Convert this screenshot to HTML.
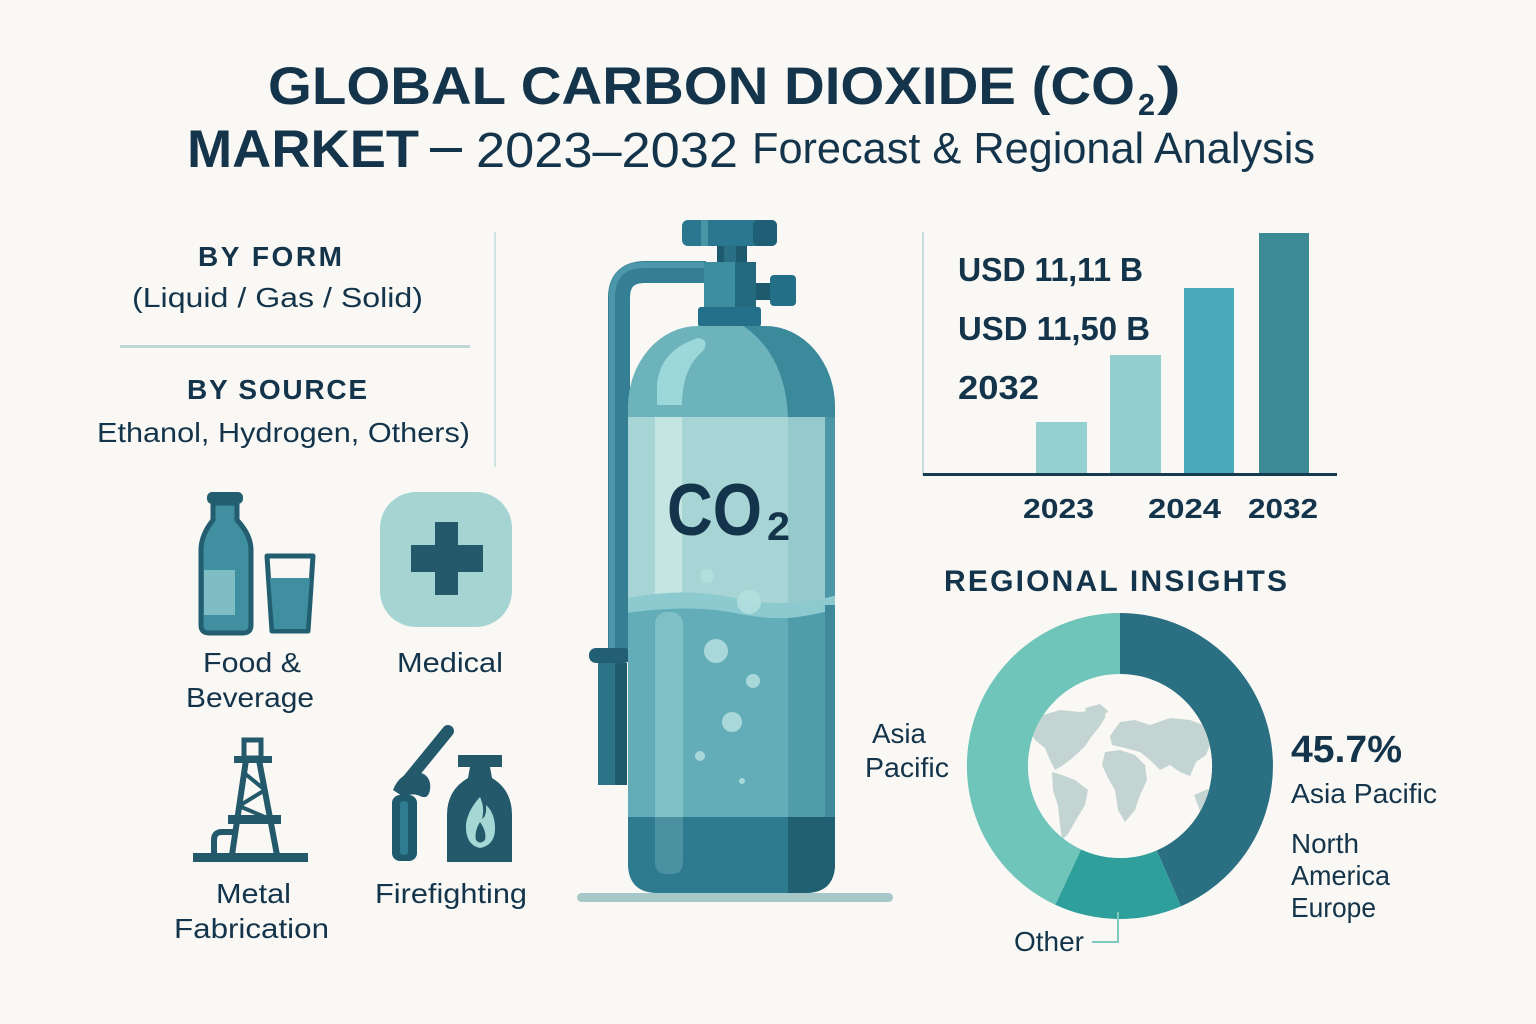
<!DOCTYPE html>
<html>
<head>
<meta charset="utf-8">
<style>
  html,body{margin:0;padding:0;background:#f9f8f4;}
  svg{display:block;}
  text{font-family:"Liberation Sans", Arial, sans-serif; fill:#13344a;}
  .b{font-weight:bold;}
</style>
</head>
<body>
<svg width="1536" height="1024" viewBox="0 0 1536 1024" xmlns="http://www.w3.org/2000/svg">
  <rect width="1536" height="1024" fill="#f9f8f4"/>

  <!-- TITLE -->
  <text x="268" y="104" class="b" font-size="53" textLength="867" lengthAdjust="spacingAndGlyphs">GLOBAL CARBON DIOXIDE (CO</text>
  <text x="1138" y="115" class="b" font-size="31" textLength="17" lengthAdjust="spacingAndGlyphs">2</text>
  <text x="1157" y="104" class="b" font-size="53" textLength="24" lengthAdjust="spacingAndGlyphs">)</text>

  <text x="187" y="167" class="b" font-size="53" textLength="232" lengthAdjust="spacingAndGlyphs">MARKET</text>
  <rect x="430" y="148" width="32" height="4" fill="#13344a"/>
  <text x="476" y="167" font-size="49" textLength="262" lengthAdjust="spacingAndGlyphs">2023–2032</text>
  <text x="752" y="163" font-size="44" textLength="563" lengthAdjust="spacingAndGlyphs">Forecast &amp; Regional Analysis</text>

  <!-- LEFT TEXT PANEL -->
  <text x="198" y="266" class="b" font-size="28" textLength="144" lengthAdjust="spacing">BY FORM</text>
  <text x="132" y="307" font-size="28" textLength="291" lengthAdjust="spacingAndGlyphs">(Liquid / Gas / Solid)</text>
  <rect x="120" y="345" width="350" height="3" fill="#c2d6d8"/>
  <text x="187" y="399" class="b" font-size="28" textLength="180" lengthAdjust="spacing">BY SOURCE</text>
  <text x="97" y="442" font-size="28" textLength="373" lengthAdjust="spacingAndGlyphs">Ethanol, Hydrogen, Others)</text>
  <rect x="494" y="232" width="2" height="235" fill="#d2e2e3"/>

  <!-- FOOD & BEVERAGE -->
  <path d="M213,503 L213,520 Q201,535 201,550 L201,625 Q201,633 209,633 L243,633 Q251,633 251,625 L251,550 Q251,535 237,520 L237,503 Z" fill="#3f8fa0" stroke="#225d70" stroke-width="5" stroke-linejoin="round"/>
  <rect x="204" y="570" width="31" height="45" fill="#7dbdc3"/>
  <rect x="207" y="492" width="36" height="12" rx="5" fill="#225d70"/>
  <path d="M267,556 L313,556 L308,631 L272,631 Z" fill="#f9f8f4" stroke="#225d70" stroke-width="5" stroke-linejoin="round"/>
  <path d="M270,578 L310,578 L306,629 L274,629 Z" fill="#3f8fa0"/>
  <text x="203" y="672" font-size="28" textLength="98" lengthAdjust="spacingAndGlyphs">Food &amp;</text>
  <text x="186" y="707" font-size="28" textLength="128" lengthAdjust="spacingAndGlyphs">Beverage</text>

  <!-- MEDICAL -->
  <rect x="380" y="492" width="132" height="135" rx="36" fill="#a6d4d3"/>
  <rect x="435" y="522" width="23" height="73" fill="#24596b"/>
  <rect x="411" y="545" width="72" height="27" fill="#24596b"/>
  <text x="397" y="672" font-size="28" textLength="106" lengthAdjust="spacingAndGlyphs">Medical</text>

  <!-- METAL FABRICATION (rig) -->
  <g fill="#24596b" stroke="#24596b">
    <rect x="193" y="853" width="115" height="9" stroke="none"/>
    <rect x="244" y="740" width="17" height="18" fill="none" stroke-width="5"/>
    <rect x="234" y="756" width="38" height="7" stroke="none"/>
    <line x1="246" y1="760" x2="232" y2="855" stroke-width="6"/>
    <line x1="259" y1="760" x2="277" y2="855" stroke-width="6"/>
    <line x1="243" y1="772" x2="265" y2="790" stroke-width="4"/>
    <line x1="265" y1="790" x2="239" y2="806" stroke-width="4"/>
    <line x1="239" y1="806" x2="272" y2="820" stroke-width="4"/>
    <rect x="228" y="815" width="53" height="9" stroke="none"/>
    <path d="M214,853 L214,840 Q214,832 222,832 L234,832" fill="none" stroke-width="6"/>
  </g>
  <text x="216" y="903" font-size="28" textLength="75" lengthAdjust="spacingAndGlyphs">Metal</text>
  <text x="174" y="938" font-size="28" textLength="155" lengthAdjust="spacingAndGlyphs">Fabrication</text>

  <!-- FIREFIGHTING -->
  <g>
    <line x1="408" y1="780" x2="448" y2="731" stroke="#24596b" stroke-width="12" stroke-linecap="round"/>
    <path d="M393,790 Q400,772 418,772 Q432,775 430,790 Q428,800 420,796 Q410,792 405,798 Z" fill="#24596b"/>
    <rect x="392" y="795" width="25" height="66" rx="8" fill="#1f5a6c"/>
    <rect x="400" y="801" width="8" height="54" rx="3" fill="#2f7b8f"/>
    <rect x="458" y="755" width="44" height="12" fill="#24596b"/>
    <path d="M470,767 L490,767 L492,778 Q512,790 512,815 L512,862 L447,862 L447,815 Q447,790 468,778 Z" fill="#24596b"/>
    <path d="M480,797 Q468,810 466,824 Q465,845 480,848 Q496,845 495,826 Q494,812 486,805 Q487,816 482,819 Q485,808 480,797 Z" fill="#a5d8d5"/>
    <path d="M480,822 Q474,832 476,840 Q480,845 485,840 Q487,832 480,822 Z" fill="#24596b"/>
  </g>
  <text x="375" y="903" font-size="28" textLength="152" lengthAdjust="spacingAndGlyphs">Firefighting</text>

  <!-- CYLINDER -->
  <path d="M619,652 L619,298 Q619,272 645,272 L706,272" fill="none" stroke="#347f93" stroke-width="22"/>
  <path d="M612,652 L612,298 Q612,265 645,265 L706,265" fill="none" stroke="#4c98aa" stroke-width="6"/>
  <rect x="589" y="648" width="42" height="15" rx="7" fill="#235f74"/>
  <rect x="598" y="663" width="29" height="122" fill="#2c7388"/>
  <rect x="615" y="663" width="12" height="122" fill="#1f5a6d"/>
  <rect x="682" y="220" width="95" height="26" rx="6" fill="#2a7890"/>
  <rect x="701" y="220" width="7" height="26" fill="#4a94a8"/>
  <rect x="753" y="220" width="24" height="26" rx="5" fill="#1f5f75"/>
  <rect x="717" y="246" width="30" height="17" fill="#1d5a6e"/>
  <rect x="724" y="246" width="12" height="17" fill="#2a6f83"/>
  <rect x="704" y="262" width="52" height="46" fill="#236a7e"/>
  <rect x="704" y="262" width="31" height="46" fill="#3d8fa0"/>
  <rect x="756" y="283" width="15" height="17" fill="#1e5a6d"/>
  <rect x="770" y="275" width="26" height="31" rx="4" fill="#236f88"/>
  <rect x="698" y="307" width="63" height="20" rx="3" fill="#246f89"/>

  <defs>
    <clipPath id="body">
      <path d="M628,407 A70,81 0 0 1 698,326 L765,326 A70,81 0 0 1 835,407 L835,863 Q835,893 805,893 L658,893 Q628,893 628,863 Z"/>
    </clipPath>
    <clipPath id="globe">
      <circle cx="1120" cy="766" r="92"/>
    </clipPath>
  </defs>
  <g clip-path="url(#body)">
    <rect x="620" y="320" width="220" height="100" fill="#6db3bc"/>
    <path d="M737,322 Q785,350 788,417 L840,417 L840,320 Z" fill="#3b8a9c"/>
    <path d="M657,405 L657,385 Q660,350 698,338 Q710,340 703,351 Q682,368 682,405 Z" fill="#9cd7da"/>
    <rect x="620" y="417" width="220" height="190" fill="#a7d4d4"/>
    <rect x="655" y="417" width="27" height="190" fill="#c4e5e2"/>
    <rect x="788" y="417" width="37" height="190" fill="#96c9cb"/>
    <rect x="825" y="417" width="15" height="190" fill="#4d96a5"/>
    <path d="M620,600 Q680,586 735,598 Q790,610 840,594 L840,900 L620,900 Z" fill="#8ccad0"/>
    <path d="M620,614 Q690,603 740,614 Q790,624 840,610 L840,900 L620,900 Z" fill="#63adb9"/>
    <rect x="655" y="612" width="28" height="261" rx="12" fill="#7fc0c7"/>
    <path d="M788,618 Q812,616 840,608 L840,900 L788,900 Z" fill="#4f9dab"/>
    <rect x="825" y="605" width="15" height="300" fill="#3e8a9a"/>
    <rect x="620" y="817" width="220" height="80" fill="#2e7a8e"/>
    <rect x="788" y="817" width="52" height="80" fill="#215f73"/>
    <path d="M655,817 L683,817 L683,862 Q683,874 671,874 L667,874 Q655,874 655,862 Z" fill="#4b91a2"/>
    <g fill="#b6e0e0" opacity="0.85">
      <circle cx="707" cy="576" r="7"/>
      <circle cx="749" cy="602" r="12"/>
      <circle cx="716" cy="651" r="12"/>
      <circle cx="753" cy="681" r="7"/>
      <circle cx="732" cy="722" r="10"/>
      <circle cx="700" cy="756" r="5"/>
      <circle cx="742" cy="781" r="3"/>
    </g>
  </g>
  <text x="667" y="535" class="b" font-size="73" textLength="95" lengthAdjust="spacingAndGlyphs">CO</text>
  <text x="767" y="540" class="b" font-size="40" textLength="23" lengthAdjust="spacingAndGlyphs">2</text>
  <rect x="577" y="893" width="316" height="9" rx="4.5" fill="#a6c8c8"/>

  <!-- BAR CHART -->
  <rect x="922" y="232" width="2" height="243" fill="#c9dcdd"/>
  <rect x="1036" y="422" width="51" height="53" fill="#95d0d0"/>
  <rect x="1110" y="355" width="51" height="120" fill="#93cdce"/>
  <rect x="1184" y="288" width="50" height="187" fill="#4aaab9"/>
  <rect x="1259" y="233" width="50" height="242" fill="#3c8b97"/>
  <rect x="923" y="473" width="414" height="3" fill="#163a4e"/>
  <text x="958" y="281" class="b" font-size="33" textLength="185" lengthAdjust="spacingAndGlyphs">USD 11,11 B</text>
  <text x="958" y="340" class="b" font-size="33" textLength="192" lengthAdjust="spacingAndGlyphs">USD 11,50 B</text>
  <text x="958" y="399" class="b" font-size="33" textLength="81" lengthAdjust="spacingAndGlyphs">2032</text>
  <text x="1023" y="518" class="b" font-size="28" textLength="71" lengthAdjust="spacingAndGlyphs">2023</text>
  <text x="1148" y="518" class="b" font-size="28" textLength="73" lengthAdjust="spacingAndGlyphs">2024</text>
  <text x="1248" y="518" class="b" font-size="28" textLength="70" lengthAdjust="spacingAndGlyphs">2032</text>

  <!-- REGIONAL INSIGHTS -->
  <text x="944" y="591" class="b" font-size="30" textLength="343" lengthAdjust="spacing">REGIONAL INSIGHTS</text>

  <path d="M1120,613 A153,153 0 0 1 1181,906.3 L1156.7,850.4 A92,92 0 0 0 1120,674 Z" fill="#2a6f82"/>
  <path d="M1181,906.3 A153,153 0 0 1 1055.3,904.7 L1081.1,849.4 A92,92 0 0 0 1156.7,850.4 Z" fill="#2f9f9b"/>
  <path d="M1055.3,904.7 A153,153 0 0 1 1120,613 L1120,674 A92,92 0 0 0 1081.1,849.4 Z" fill="#6fc5ba"/>
  <circle cx="1120" cy="766" r="92" fill="#f9f8f4"/>
  <g clip-path="url(#globe)" fill="#c4d4d3">
    <polygon points="1030,730 1040,716 1060,710 1080,712 1095,710 1106,716 1100,726 1092,736 1085,746 1078,753 1070,760 1062,766 1055,770 1050,760 1045,748 1035,740"/>
    <polygon points="1085,708 1100,704 1108,711 1099,722 1088,718"/>
    <polygon points="1052,772 1062,775 1075,780 1088,790 1085,805 1076,820 1068,834 1062,840 1060,825 1058,806 1053,790"/>
    <polygon points="1110,736 1120,722 1135,720 1150,725 1170,718 1190,720 1206,726 1212,740 1206,755 1196,762 1190,776 1180,772 1170,765 1160,770 1150,760 1140,752 1125,748 1112,745"/>
    <polygon points="1105,752 1120,750 1135,755 1145,765 1147,780 1140,795 1135,810 1125,822 1118,810 1115,790 1108,778 1102,765"/>
    <polygon points="1194,795 1208,789 1214,804 1200,811"/>
  </g>

  <text x="872" y="743" font-size="28" textLength="54" lengthAdjust="spacingAndGlyphs">Asia</text>
  <text x="865" y="777" font-size="28" textLength="84" lengthAdjust="spacingAndGlyphs">Pacific</text>

  <text x="1291" y="762" class="b" font-size="38" textLength="111" lengthAdjust="spacingAndGlyphs">45.7%</text>
  <text x="1291" y="803" font-size="28" textLength="146" lengthAdjust="spacingAndGlyphs">Asia Pacific</text>
  <text x="1291" y="853" font-size="28" textLength="68" lengthAdjust="spacingAndGlyphs">North</text>
  <text x="1291" y="885" font-size="28" textLength="99" lengthAdjust="spacingAndGlyphs">America</text>
  <text x="1291" y="917" font-size="28" textLength="85" lengthAdjust="spacingAndGlyphs">Europe</text>

  <text x="1014" y="951" font-size="28" textLength="70" lengthAdjust="spacingAndGlyphs">Other</text>
  <path d="M1092,942 L1118,942 L1118,912" fill="none" stroke="#7fc8c0" stroke-width="2"/>
</svg>
</body>
</html>
